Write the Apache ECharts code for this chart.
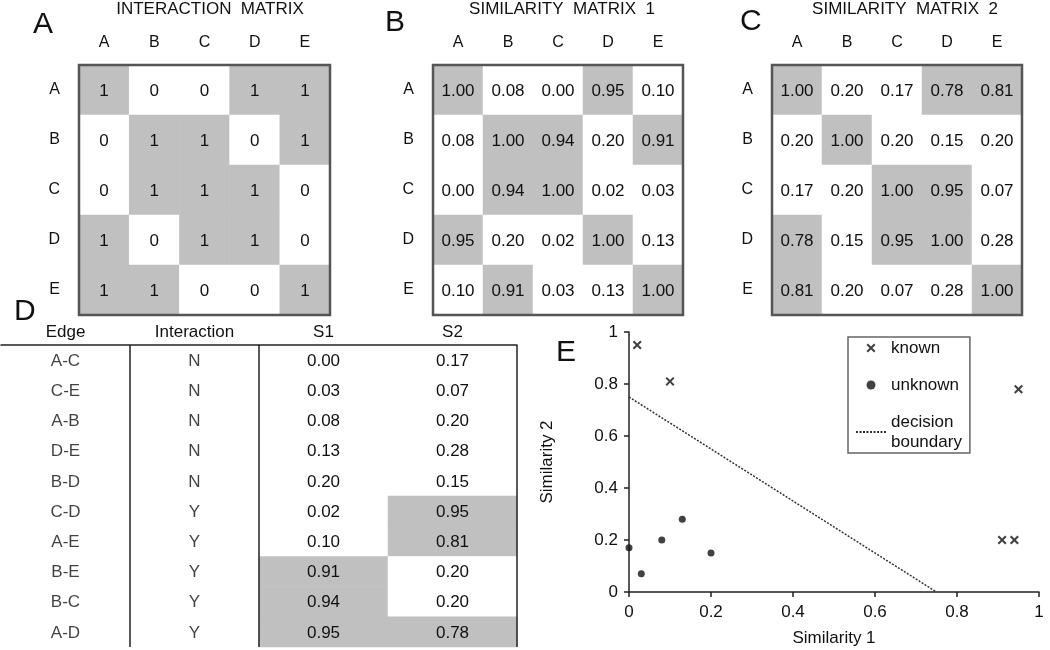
<!DOCTYPE html>
<html><head><meta charset="utf-8">
<script src="https://cdn.jsdelivr.net/npm/echarts@6/dist/echarts.min.js"></script>
<style>html,body{margin:0;padding:0;background:#fff}#c{width:1050px;height:650px}</style>
</head><body><div id="c"></div>
<script>
// ---------- data ----------
const nodes = ['A','B','C','D','E'];
const interactionMatrix = [
  [1,0,0,1,1],
  [0,1,1,0,1],
  [0,1,1,1,0],
  [1,0,1,1,0],
  [1,1,0,0,1]
];
const similarity1 = [
  [1.00,0.08,0.00,0.95,0.10],
  [0.08,1.00,0.94,0.20,0.91],
  [0.00,0.94,1.00,0.02,0.03],
  [0.95,0.20,0.02,1.00,0.13],
  [0.10,0.91,0.03,0.13,1.00]
];
const similarity2 = [
  [1.00,0.20,0.17,0.78,0.81],
  [0.20,1.00,0.20,0.15,0.20],
  [0.17,0.20,1.00,0.95,0.07],
  [0.78,0.15,0.95,1.00,0.28],
  [0.81,0.20,0.07,0.28,1.00]
];
const tableColumns = ['Edge','Interaction','S1','S2'];
const edges = ['A-C','C-E','A-B','D-E','B-D','C-D','A-E','B-E','B-C','A-D'];
const interactions = ['N','N','N','N','N','Y','Y','Y','Y','Y'];
const s1Values = [0.00,0.03,0.08,0.13,0.20,0.02,0.10,0.91,0.94,0.95];
const s2Values = [0.17,0.07,0.20,0.28,0.15,0.95,0.81,0.20,0.20,0.78];
const boundaryS1 = [0, 0.75];
const boundaryS2 = [0.75, 0];

// ---------- helpers ----------
const FONT = '"Liberation Sans", Arial, sans-serif';
const TXT = '#111';
const GRAY = '#c0c0c0';
function matrixData(m){
  const out = [];
  m.forEach((row, r) => row.forEach((v, c) => out.push([c, r, v])));
  return out;
}
function matrixAxes(gi){
  return {
    x: {type:'category', gridIndex:gi, data:nodes, position:'top',
        axisLine:{show:false}, axisTick:{show:false}, splitLine:{show:false},
        axisLabel:{fontSize:16, color:TXT, fontFamily:FONT, margin:14}},
    y: {type:'category', gridIndex:gi, data:nodes, inverse:true,
        axisLine:{show:false}, axisTick:{show:false}, splitLine:{show:false},
        axisLabel:{fontSize:16, color:TXT, fontFamily:FONT, margin:19}}
  };
}
const mA = matrixAxes(0), mB = matrixAxes(1), mC = matrixAxes(2);
const matrixGrid = {top:65, height:250, show:true, borderColor:'#555', borderWidth:2.5, backgroundColor:'transparent'};

const knownPts = [], unknownPts = [];
edges.forEach((e, i) => {
  (interactions[i] === 'Y' ? knownPts : unknownPts).push([s1Values[i], s2Values[i]]);
});
const X_PATH = 'path://M0,1.6 L1.6,0 L5,3.4 L8.4,0 L10,1.6 L6.6,5 L10,8.4 L8.4,10 L5,6.6 L1.6,10 L0,8.4 L3.4,5 Z';

function heat(xi, data, fmt){
  return {type:'heatmap', xAxisIndex:xi, yAxisIndex:xi, data:data, z:-1,
    itemStyle:{borderWidth:0},
    label:{show:true, fontSize:17, color:TXT, fontFamily:FONT, formatter:fmt, offset:[0,1]},
    emphasis:{disabled:true}};
}
const fmt2 = p => p.value[2].toFixed(2);
const fmt0 = p => String(p.value[2]);

const titleStyle = (size) => ({fontSize:size, fontWeight:'normal', color:'#111', fontFamily:FONT});

const option = {
  animation:false,
  backgroundColor:'#fff',
  textStyle:{fontFamily:FONT},
  title:[
    {text:'A', left:28, top:5, textStyle:titleStyle(30)},
    {text:'B', left:380, top:3, textStyle:titleStyle(30)},
    {text:'C', left:735, top:2, textStyle:titleStyle(30)},
    {text:'D', left:9, top:292, textStyle:titleStyle(30)},
    {text:'E', left:551, top:333, textStyle:titleStyle(30)},
    {text:'INTERACTION  MATRIX', left:205, textAlign:'center', top:-4, textStyle:titleStyle(17)},
    {text:'SIMILARITY  MATRIX  1', left:557, textAlign:'center', top:-4, textStyle:titleStyle(17)},
    {text:'SIMILARITY  MATRIX  2', left:900, textAlign:'center', top:-4, textStyle:titleStyle(17)}
  ],
  grid:[
    Object.assign({left:79, width:251}, matrixGrid),
    Object.assign({left:433, width:250}, matrixGrid),
    Object.assign({left:772, width:250}, matrixGrid),
    {left:1, top:345, width:516, height:302},
    {left:629, top:332, width:410, height:260}
  ],
  xAxis:[
    mA.x, mB.x, mC.x,
    {type:'category', gridIndex:3, data:tableColumns, position:'top',
     axisLine:{show:true, lineStyle:{color:'#222', width:1.5}},
     axisTick:{show:false},
     axisLabel:{fontSize:17, color:TXT, fontFamily:FONT, margin:4},
     splitLine:{show:true, interval:(i) => i === 1 || i === 2, lineStyle:{color:'#222', width:1.5}}},
    {type:'value', gridIndex:4, min:0, max:1, interval:0.2,
     axisLine:{show:true, onZero:false, lineStyle:{color:'#222', width:1.5}},
     axisTick:{show:true, length:5, lineStyle:{color:'#222', width:1.5}},
     axisLabel:{fontSize:17, color:TXT, fontFamily:FONT, margin:12},
     splitLine:{show:false},
     name:'Similarity 1', nameLocation:'middle', nameGap:38,
     nameTextStyle:{fontSize:17, color:TXT, fontFamily:FONT}}
  ],
  yAxis:[
    mA.y, mB.y, mC.y,
    {type:'category', gridIndex:3, data:edges, inverse:true, show:false},
    {type:'value', gridIndex:4, min:0, max:1, interval:0.2,
     axisLine:{show:true, onZero:false, lineStyle:{color:'#222', width:1.5}},
     axisTick:{show:true, length:5, lineStyle:{color:'#222', width:1.5}},
     axisLabel:{fontSize:17, color:TXT, fontFamily:FONT, margin:11},
     splitLine:{show:false},
     name:'Similarity 2', nameLocation:'middle', nameGap:73,
     nameTextStyle:{fontSize:17, color:TXT, fontFamily:FONT}}
  ],
  visualMap:[
    {type:'piecewise', show:false, seriesIndex:0, dimension:2, pieces:[{gt:0.5, color:GRAY},{lte:0.5, color:'#ffffff'}]},
    {type:'piecewise', show:false, seriesIndex:1, dimension:2, pieces:[{gt:0.9, color:GRAY},{lte:0.9, color:'#ffffff'}]},
    {type:'piecewise', show:false, seriesIndex:2, dimension:2, pieces:[{gt:0.75, color:GRAY},{lte:0.75, color:'#ffffff'}]},
    {type:'piecewise', show:false, seriesIndex:3, dimension:2, pieces:[{gt:0.9, color:GRAY},{lte:0.9, color:'#ffffff'}]},
    {type:'piecewise', show:false, seriesIndex:4, dimension:2, pieces:[{gt:0.75, color:GRAY},{lte:0.75, color:'#ffffff'}]}
  ],
  legend:{
    orient:'vertical', left:848, top:337, padding:[1,8,1,7], itemGap:17,
    itemWidth:30, itemHeight:9, borderColor:'#666', borderWidth:1.5,
    selectedMode:false,
    data:['known','unknown',{name:'decision boundary', itemStyle:{opacity:0}}],
    textStyle:{fontSize:17, lineHeight:20, color:TXT, fontFamily:FONT},
    formatter: n => n === 'decision boundary' ? 'decision\nboundary' : n
  },
  series:[
    heat(0, matrixData(interactionMatrix), fmt0),
    heat(1, matrixData(similarity1), fmt2),
    heat(2, matrixData(similarity2), fmt2),
    heat(3, s1Values.map((v, i) => [2, i, v]), fmt2),
    heat(3, s2Values.map((v, i) => [3, i, v]), fmt2),
    {type:'scatter', xAxisIndex:3, yAxisIndex:3, symbolSize:1, itemStyle:{color:'rgba(0,0,0,0)'},
     data:edges.map((e, i) => ({name:e, value:[0, i]})),
     label:{show:true, position:'inside', formatter:'{b}', fontSize:17, color:TXT, fontFamily:FONT, offset:[0,1]},
     emphasis:{disabled:true}, silent:true},
    {type:'scatter', xAxisIndex:3, yAxisIndex:3, symbolSize:1, itemStyle:{color:'rgba(0,0,0,0)'},
     data:interactions.map((t, i) => ({name:t, value:[1, i]})),
     label:{show:true, position:'inside', formatter:'{b}', fontSize:17, color:TXT, fontFamily:FONT, offset:[0,1]},
     emphasis:{disabled:true}, silent:true},
    {type:'scatter', name:'known', xAxisIndex:4, yAxisIndex:4, symbol:X_PATH, symbolSize:9,
     itemStyle:{color:'#111'}, data:knownPts},
    {type:'scatter', name:'unknown', xAxisIndex:4, yAxisIndex:4, symbol:'circle', symbolSize:7,
     itemStyle:{color:'#111'}, data:unknownPts},
    {type:'line', name:'decision boundary', xAxisIndex:4, yAxisIndex:4, symbol:'none',
     lineStyle:{color:'#333', width:1.5, type:[2,1.5]}, itemStyle:{color:'#333'},
     data:boundaryS1.map((x, i) => [x, boundaryS2[i]])}
  ]
};
const chart = echarts.init(document.getElementById('c'), null, {renderer:'canvas'});
chart.setOption(option);
</script>
</body></html>
